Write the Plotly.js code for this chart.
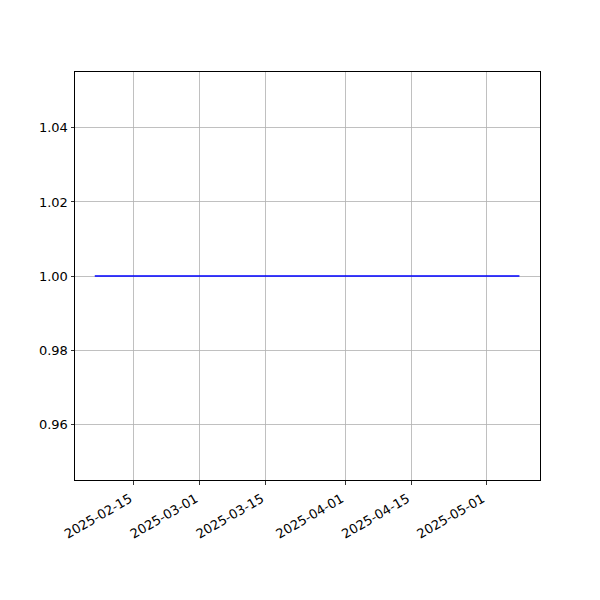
<!DOCTYPE html>
<html>
<head>
<meta charset="utf-8">
<script src="https://cdn.plot.ly/plotly-3.0.1.min.js"></script>
<style>html,body{margin:0;padding:0;background:#fff;}</style>
</head>
<body>
<div id="chart" style="width:600px;height:600px;"></div>
<script>
// Data
const dates = ["2025-02-06 16:00", "2025-05-08 00:00"];
const values = [1.0, 1.0];
const xTickVals = ["2025-02-15", "2025-03-01", "2025-03-15", "2025-04-01", "2025-04-15", "2025-05-01"];
const xTickText = ["2025-02-15", "2025-03-01", "2025-03-15", "2025-04-01", "2025-04-15", "2025-05-01"];
const yTickVals = [0.96, 0.98, 1.00, 1.02, 1.04];
const yTickText = ["0.96", "0.98", "1.00", "1.02", "1.04"];

const trace = {
  x: dates, y: values, type: "scatter", mode: "lines",
  line: {color: "#0000ff", width: 1.5}, hoverinfo: "skip"
};

const axisCommon = {
  showline: true, linecolor: "#000", linewidth: 1, mirror: true,
  ticks: "outside", ticklen: 3.5, tickwidth: 0.8, tickcolor: "#000",
  showgrid: true, gridcolor: "#b0b0b0", gridwidth: 0.8,
  zeroline: false,
  tickfont: {family: "DejaVu Sans", size: 13, color: "#000"},
  tickmode: "array"
};

const layout = {
  width: 600, height: 600,
  margin: {l: 75, r: 60, t: 72, b: 120},
  paper_bgcolor: "#fff", plot_bgcolor: "#fff",
  showlegend: false,
  xaxis: Object.assign({}, axisCommon, {
    type: "date",
    range: ["2025-02-02 11:00", "2025-05-12 09:00"],
    tickvals: xTickVals, ticktext: xTickText,
    tickangle: -30,
    ticklabelshift: -4,
    ticklabelstandoff: 2
  }),
  yaxis: Object.assign({}, axisCommon, {
    range: [0.9449, 1.0551],
    tickvals: yTickVals, ticktext: yTickText
  })
};

Plotly.newPlot("chart", [trace], layout, {displayModeBar: false, staticPlot: true});
</script>
</body>
</html>
